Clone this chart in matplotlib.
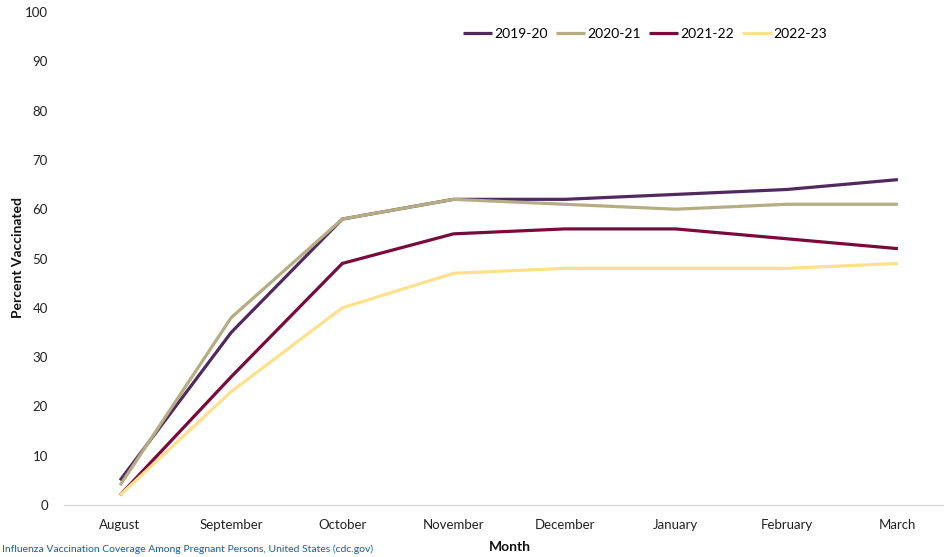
import matplotlib
matplotlib.use("Agg")
import matplotlib.pyplot as plt

plt.rcParams['font.family'] = ['Lato', 'DejaVu Sans']

months = ["August", "September", "October", "November", "December",
          "January", "February", "March"]
seasons = ["2019-20", "2020-21", "2021-22", "2022-23"]
s2019_20 = [5, 35, 58, 62, 62, 63, 64, 66]
s2020_21 = [4, 38, 58, 62, 61, 60, 61, 61]
s2021_22 = [2, 26, 49, 55, 56, 56, 54, 52]
s2022_23 = [2, 23, 40, 47, 48, 48, 48, 49]
colors = ["#52295F", "#B5AD83", "#7A0A3B", "#FFE08C"]
yticks = list(range(0, 101, 10))
source = "Influenza Vaccination Coverage Among Pregnant Persons, United States (cdc.gov)"

fig = plt.figure(figsize=(9.45, 5.57), dpi=100)
ax = fig.add_axes([64.5 / 945, 1 - 505 / 557, 889 / 945, 493 / 557])

x = list(range(len(months)))
for vals, lab, col in zip([s2019_20, s2020_21, s2021_22, s2022_23], seasons, colors):
    ax.plot(x, vals, color=col, lw=2.3, label=lab, solid_capstyle='butt',
            solid_joinstyle='miter')

ax.set_xlim(-0.5, len(months) - 0.5)
ax.set_ylim(0, 100)
ax.set_xticks(x)
ax.set_xticklabels(months)
ax.set_yticks(yticks)
ax.tick_params(axis='both', length=0, labelsize=9.5, colors='#222222')
ax.tick_params(axis='x', pad=10)
ax.tick_params(axis='y', pad=12)
for s in ['top', 'right', 'left']:
    ax.spines[s].set_visible(False)
ax.spines['bottom'].set_color('#D9D9D9')
ax.spines['bottom'].set_linewidth(1.0)
ax.set_zorder(1)
ax.patch.set_alpha(0)

fig.text(510 / 945, 1 - 547 / 557, "Month", ha='center', va='center',
         fontsize=10, fontweight='bold', color='#111111')
fig.text(18 / 945, 1 - 258 / 557, "Percent Vaccinated", ha='center', va='center',
         rotation=90, fontsize=10, fontweight='bold', color='#111111')

fig.legend(loc='center', bbox_to_anchor=(645 / 945, 1 - 34 / 557), ncol=4,
           frameon=False, fontsize=10, handlelength=2.1, handletextpad=0.15,
           columnspacing=0.6)

fig.text(2 / 945, 1 - 549 / 557, source, ha='left', va='center',
         fontsize=7.5, color='#0563C1')

fig.savefig("out.png", dpi=100)
